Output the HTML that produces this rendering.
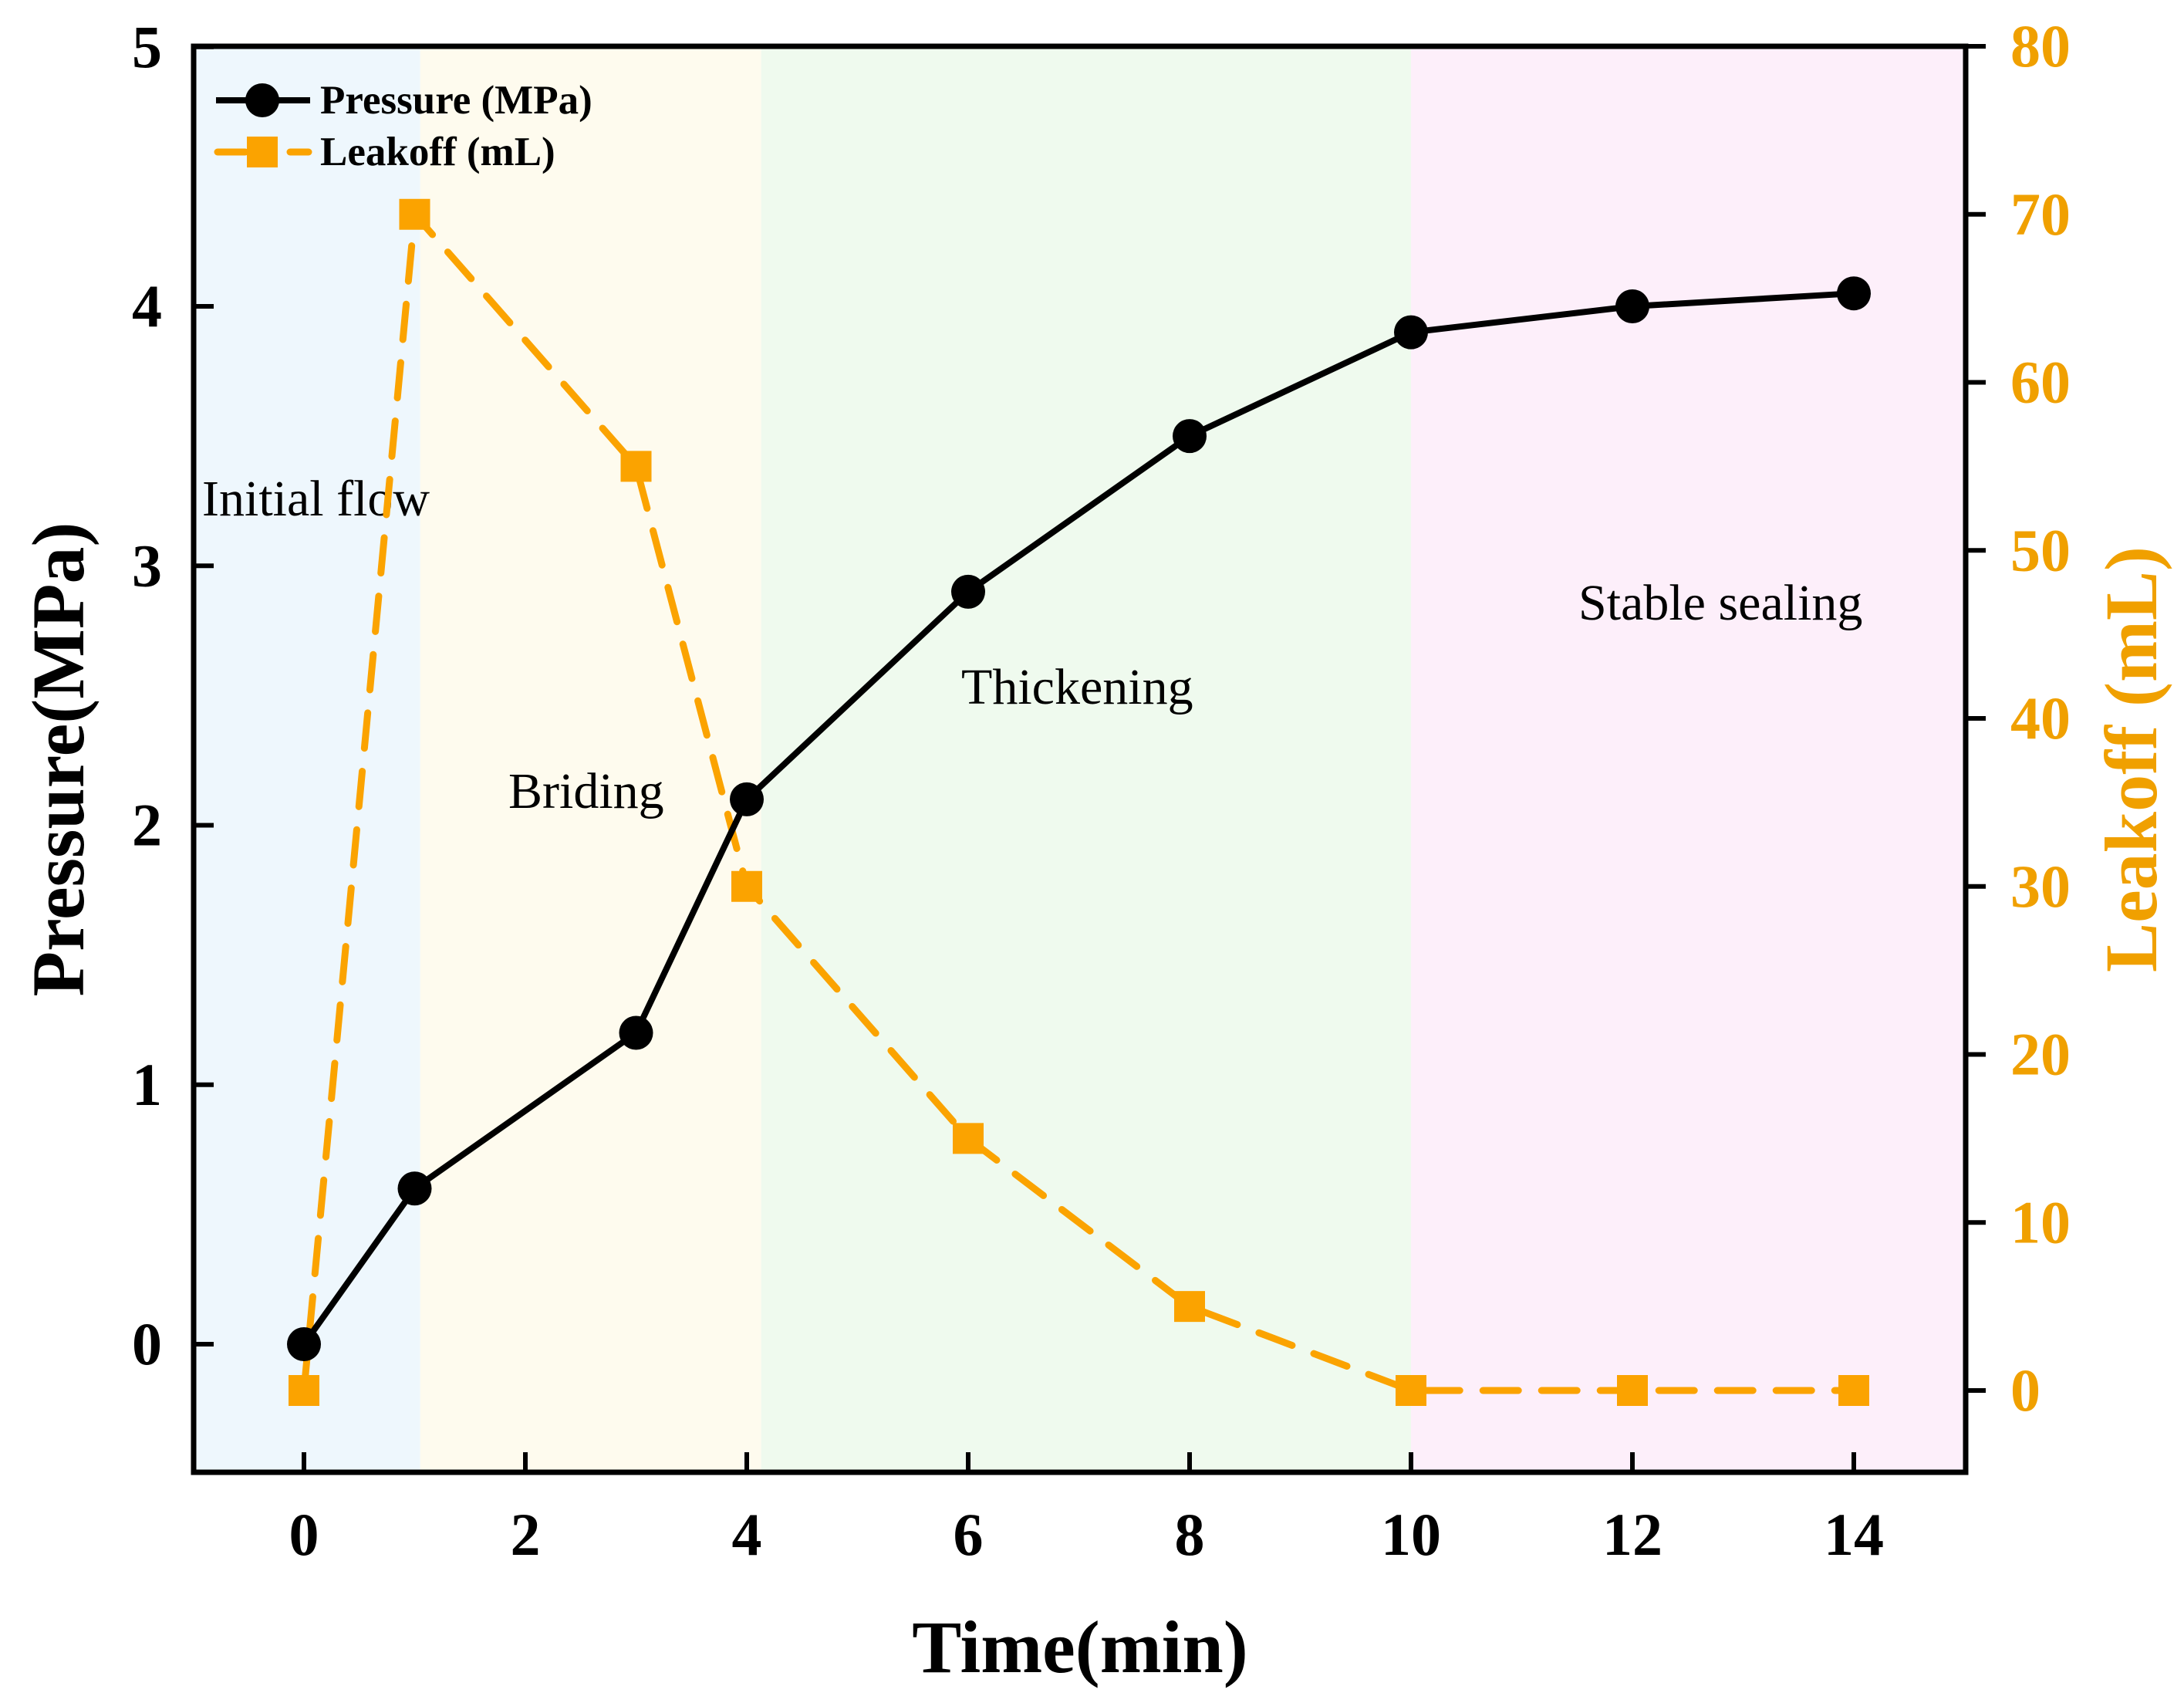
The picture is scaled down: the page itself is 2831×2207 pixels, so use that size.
<!DOCTYPE html>
<html><head><meta charset="utf-8"><style>
html,body{margin:0;padding:0;background:#fff;}
svg{display:block;}
text{font-family:"Liberation Serif",serif;}
</style></head><body>
<svg id="chart" width="2831" height="2207" viewBox="0 0 2831 2207" xmlns="http://www.w3.org/2000/svg">
<g id="bands"></g>
<g id="series"></g>
<g id="axes"></g>
</svg>
<script>
const times = [0, 1, 3, 4, 6, 8, 10, 12, 14];
const pressure = [0, 0.6, 1.2, 2.1, 2.9, 3.5, 3.9, 4.0, 4.05];
const leakoff = [0, 70, 55, 30, 15, 5, 0, 0, 0];
const xTicks = [0, 2, 4, 6, 8, 10, 12, 14];
const yLeftTicks = [0, 1, 2, 3, 4, 5];
const yRightTicks = [0, 10, 20, 30, 40, 50, 60, 70, 80];
const stageStarts = [-1, 1.05, 4.13, 10];
const stageEnds = [1.05, 4.13, 10, 15];
const stageNames = ["Initial flow", "Briding", "Thickening", "Stable sealing"];

const NS = "http://www.w3.org/2000/svg";
const L = 251, R = 2548, T = 60, B = 1908;
function xs(v){ return 394 + v * (2403 - 394) / 14; }
function yl(v){ return 1742 - v * (1742 - 397) / 4; }
function yr(v){ return 1802 - v * (1802 - 60) / 80; }
function mk(tag, attrs, parent){
  const e = document.createElementNS(NS, tag);
  for (const k in attrs) e.setAttribute(k, attrs[k]);
  parent.appendChild(e); return e;
}
const bands = document.getElementById('bands');
const series = document.getElementById('series');
const axes = document.getElementById('axes');
const bandColors = ["#eef7fd", "#fefbee", "#effaee", "#fdeffa"];
stageStarts.forEach((s, i) => {
  const x0 = Math.max(L, xs(s)), x1 = Math.min(R, xs(stageEnds[i]));
  const r = mk('rect', {x: x0, y: T, width: x1 - x0, height: B - T, fill: bandColors[i]}, bands);
  
  
});
const labelPos = [[262, 668], [659, 1047], [1246, 912], [2046, 803]];
stageNames.forEach((n, i) => {
  const t = mk('text', {x: labelPos[i][0], y: labelPos[i][1], 'font-size': 66, fill: '#000'}, bands);
  t.textContent = n;
  
  
});
const lp = times.map((t, i) => xs(t) + ',' + yr(leakoff[i])).join(' ');
const ll = mk('polyline', {points: lp, fill: 'none', stroke: '#fba300', 'stroke-width': 9, 'stroke-dasharray': '46 30', 'stroke-linecap': 'round'}, series);


times.forEach((t, i) => {
  const s = mk('rect', {x: xs(t) - 20, y: yr(leakoff[i]) - 20, width: 40, height: 40, fill: '#fba300'}, series);
  
  
});
const pp = times.map((t, i) => xs(t) + ',' + yl(pressure[i])).join(' ');
const pl = mk('polyline', {points: pp, fill: 'none', stroke: '#000', 'stroke-width': 8}, series);


times.forEach((t, i) => {
  const c = mk('circle', {cx: xs(t), cy: yl(pressure[i]), r: 22, fill: '#000'}, series);
  
  
});
const fr = mk('rect', {x: L, y: T, width: R - L, height: B - T, fill: 'none', stroke: '#000', 'stroke-width': 7}, axes);


xTicks.forEach(v => {
  mk('line', {x1: xs(v), x2: xs(v), y1: B, y2: B - 26, stroke: '#000', 'stroke-width': 6}, axes);
  const t = mk('text', {x: xs(v), y: 2015, 'font-size': 78, 'font-weight': 'bold', 'text-anchor': 'middle'}, axes);
  t.textContent = v;
  
  
});
yLeftTicks.forEach(v => {
  mk('line', {x1: L, x2: L + 26, y1: yl(v), y2: yl(v), stroke: '#000', 'stroke-width': 6}, axes);
  const t = mk('text', {x: 210, y: yl(v) + 26, 'font-size': 78, 'font-weight': 'bold', 'text-anchor': 'end'}, axes);
  t.textContent = v;
  
  
});
yRightTicks.forEach(v => {
  mk('line', {x1: R, x2: R + 26, y1: yr(v), y2: yr(v), stroke: '#000', 'stroke-width': 6}, axes);
  const t = mk('text', {x: 2606, y: yr(v) + 26, 'font-size': 78, 'font-weight': 'bold', fill: '#f0a000'}, axes);
  t.textContent = v;
  
  
});
</script>
<svg style="position:absolute;left:0;top:0" width="2831" height="2207" xmlns="http://www.w3.org/2000/svg">
<text x="1400" y="2167" font-size="96" font-weight="bold" text-anchor="middle" font-family="Liberation Serif, serif">Time(min)</text>
<text transform="translate(108,984) rotate(-90)" font-size="96" font-weight="bold" text-anchor="middle" font-family="Liberation Serif, serif">Pressure(MPa)</text>
<text transform="translate(2795,984) rotate(-90)" font-size="96" font-weight="bold" text-anchor="middle" fill="#f0a000" font-family="Liberation Serif, serif">Leakoff (mL)</text>
<g>
<line x1="280" y1="130" x2="402" y2="130" stroke="#000" stroke-width="8"/>
<circle cx="340" cy="130" r="22" fill="#000"/>
<text x="415" y="147" font-size="53" font-weight="bold" font-family="Liberation Serif, serif">Pressure (MPa)</text>
<line x1="282" y1="197" x2="318" y2="197" stroke="#fba300" stroke-width="9" stroke-linecap="round"/>
<line x1="376" y1="197" x2="400" y2="197" stroke="#fba300" stroke-width="9" stroke-linecap="round"/>
<rect x="320" y="177" width="40" height="40" fill="#fba300"/>
<text x="415" y="214" font-size="53" font-weight="bold" font-family="Liberation Serif, serif">Leakoff (mL)</text>
</g>
</svg>
</body></html>
